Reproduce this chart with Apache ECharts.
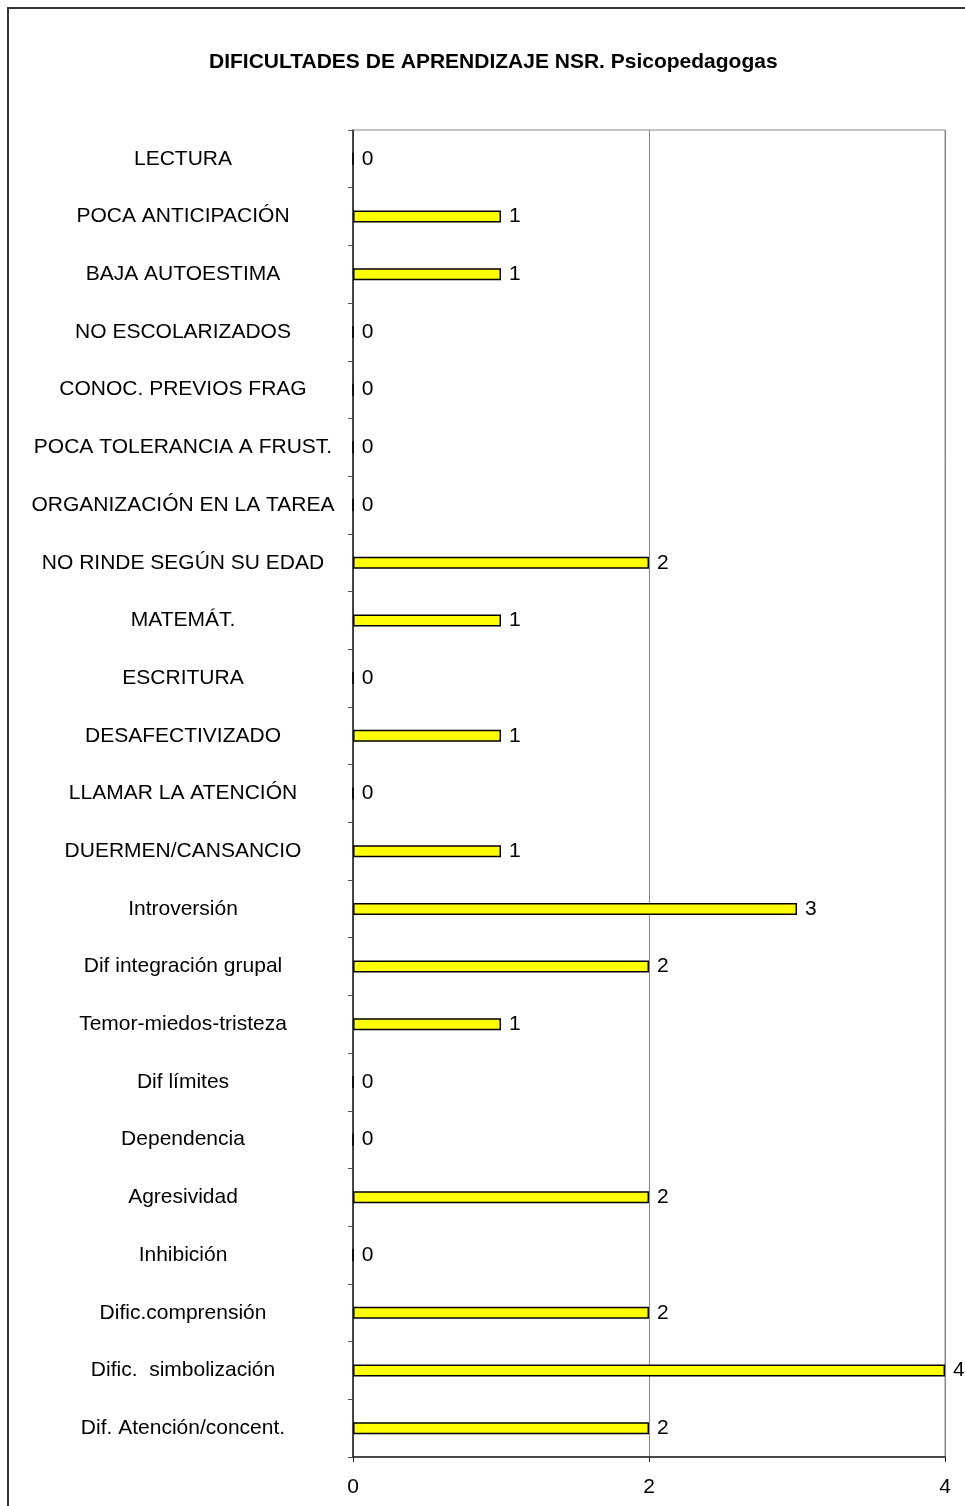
<!DOCTYPE html>
<html>
<head>
<meta charset="utf-8">
<script src="https://cdn.jsdelivr.net/npm/echarts@6/dist/echarts.min.js"></script>
<style>html,body{margin:0;padding:0;background:#fff}#c{width:965px;height:1506px}</style>
</head>
<body>
<div id="c"></div>
<script>
const titleText = 'DIFICULTADES DE APRENDIZAJE NSR. Psicopedagogas';
const categories = [
  'LECTURA', 'POCA ANTICIPACIÓN', 'BAJA AUTOESTIMA', 'NO ESCOLARIZADOS', 'CONOC. PREVIOS FRAG',
  'POCA TOLERANCIA A FRUST.', 'ORGANIZACIÓN EN LA TAREA', 'NO RINDE SEGÚN SU EDAD', 'MATEMÁT.',
  'ESCRITURA', 'DESAFECTIVIZADO', 'LLAMAR LA ATENCIÓN', 'DUERMEN/CANSANCIO', 'Introversión',
  'Dif integración grupal', 'Temor-miedos-tristeza', 'Dif límites', 'Dependencia', 'Agresividad',
  'Inhibición', 'Dific.comprensión', 'Dific.  simbolización', 'Dif. Atención/concent.'
];
const values = [0, 1, 1, 0, 0, 0, 0, 2, 1, 0, 1, 0, 1, 3, 2, 1, 0, 0, 2, 0, 2, 4, 2];
const xTicks = [0, 2, 4];

const font = 'Arial, "Liberation Sans", sans-serif';
const chart = echarts.init(document.getElementById('c'), null, {renderer: 'canvas'});
chart.setOption({
  backgroundColor: '#fff',
  animation: false,
  textStyle: {fontFamily: font},
  title: {
    text: titleText, left: 204, top: 47,
    textStyle: {fontSize: 21, fontWeight: 'bold', color: '#000', fontFamily: font}
  },
  graphic: [{
    type: 'rect', shape: {x: 8, y: 8, width: 1000, height: 1600},
    style: {fill: 'none', stroke: '#333', lineWidth: 2}, silent: true
  }],
  grid: {
    left: 353, right: 20, top: 130, bottom: 49, containLabel: false,
    show: true, borderColor: '#888', borderWidth: 1, backgroundColor: 'transparent'
  },
  xAxis: {
    type: 'value', min: xTicks[0], max: xTicks[xTicks.length - 1], interval: 2,
    axisLine: {show: true, lineStyle: {color: '#222', width: 1.5}},
    axisTick: {show: true, length: 5, lineStyle: {color: '#222'}},
    axisLabel: {fontSize: 21, color: '#000', margin: 20, fontFamily: font},
    splitLine: {show: true, lineStyle: {color: '#888', width: 1}}
  },
  yAxis: {
    type: 'category', data: categories, inverse: true,
    axisLine: {show: true, lineStyle: {color: '#222', width: 1.5}},
    axisTick: {show: true, length: 5, inside: false, lineStyle: {color: '#555'}},
    axisLabel: {fontSize: 21, color: '#000', margin: 170, align: 'center', fontFamily: font}
  },
  series: [{
    type: 'bar', data: values, barWidth: 12,
    itemStyle: {color: '#ffff00', borderColor: '#000', borderWidth: 1.5},
    label: {show: true, position: 'right', distance: 8, fontSize: 21, color: '#000', fontFamily: font}
  }]
});
</script>
</body>
</html>
